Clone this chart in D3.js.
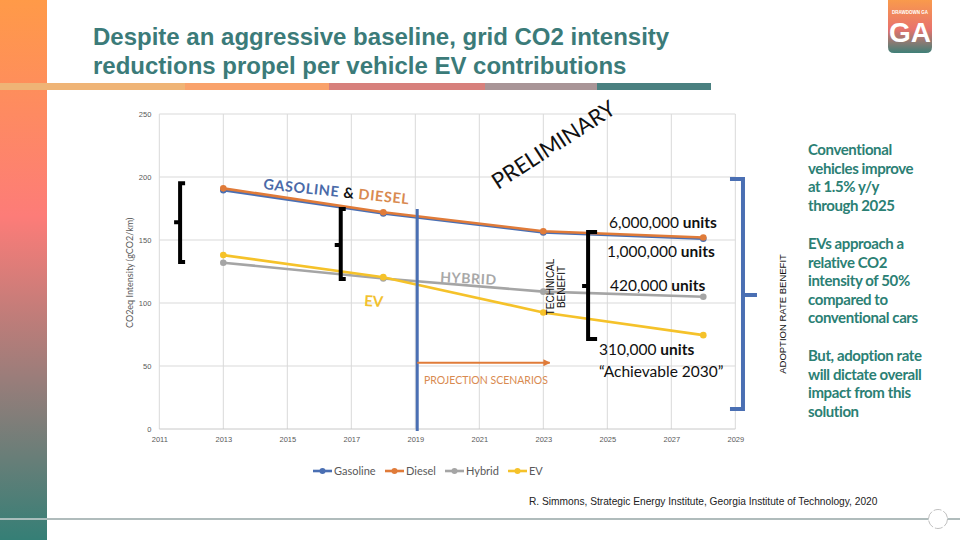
<!DOCTYPE html>
<html>
<head>
<meta charset="utf-8">
<script src="https://cdn.jsdelivr.net/npm/d3@7"></script>
<style>
  body { margin: 0; background: #fff; }
  svg { display: block; }
</style>
</head>
<body>
<svg id="chart" width="960" height="540"></svg>
<script>
// values
var years = [2013, 2018, 2023, 2028];
var gasoline = [189.5, 171, 156, 151];
var diesel = [191, 172, 157, 152];
var hybrid = [132, 119.5, 109, 105];
var ev = [138, 120.5, 92.5, 74.5];
var seriesNames = ["Gasoline", "Diesel", "Hybrid", "EV"];
var seriesColors = ["#4a6fb3", "#e07b39", "#a5a5a5", "#f5c22a"];
var xTicks = [2011, 2013, 2015, 2017, 2019, 2021, 2023, 2025, 2027, 2029];
var yTicks = [0, 50, 100, 150, 200, 250];
var unitLabels = [["6,000,000", " units"], ["1,000,000", " units"], ["420,000", " units"], ["310,000", " units"]];
var notes = [
  ["Conventional", "vehicles improve", "at 1.5% y/y", "through 2025"],
  ["EVs approach a", "relative CO2", "intensity of 50%", "compared to", "conventional cars"],
  ["But, adoption rate", "will dictate overall", "impact from this", "solution"]
];

var svg = d3.select("#chart");
var defs = svg.append("defs");

// left decorative strip
var strip = defs.append("linearGradient").attr("id", "strip").attr("x1", 0).attr("x2", 0).attr("y1", 0).attr("y2", 1);
strip.append("stop").attr("offset", "0%").attr("stop-color", "#ff9a48");
strip.append("stop").attr("offset", "40%").attr("stop-color", "#fd7c78");
strip.append("stop").attr("offset", "70%").attr("stop-color", "#9a7d7a");
strip.append("stop").attr("offset", "100%").attr("stop-color", "#357f76");
svg.append("rect").attr("x", 0).attr("y", 0).attr("width", 47).attr("height", 540).attr("fill", "url(#strip)");

// coloured band under the title
var band = [[0, 185, "#efb476"], [185, 329, "#f9a26b"], [329, 485, "#d7807c"], [485, 597, "#a99597"], [597, 711, "#4a8080"]];
svg.selectAll(".band").data(band).enter().append("rect")
  .attr("x", function(d) { return d[0]; })
  .attr("width", function(d) { return d[1] - d[0]; })
  .attr("y", 83).attr("height", 7)
  .attr("fill", function(d) { return d[2]; });

// title
var title = svg.append("text").attr("x", 93).attr("font-family", "Liberation Sans Narrow, Liberation Sans, sans-serif")
  .attr("font-size", 24).attr("font-weight", "bold").attr("fill", "#3b7b79");
title.append("tspan").attr("x", 93).attr("y", 45).text("Despite an aggressive baseline, grid CO2 intensity");
title.append("tspan").attr("x", 93).attr("y", 74).text("reductions propel per vehicle EV contributions");

// logo
var logo = defs.append("linearGradient").attr("id", "logo").attr("x1", 0).attr("x2", 0).attr("y1", 0).attr("y2", 1);
logo.append("stop").attr("offset", "0%").attr("stop-color", "#f99a4c");
logo.append("stop").attr("offset", "55%").attr("stop-color", "#e8736d");
logo.append("stop").attr("offset", "100%").attr("stop-color", "#3f8078");
svg.append("path").attr("d", "M888,0 H932 V47 Q932,53 926,53 H894 Q888,53 888,47 Z").attr("fill", "url(#logo)");
svg.append("text").attr("x", 910).attr("y", 14).attr("text-anchor", "middle").attr("font-family", "Liberation Sans Narrow, sans-serif")
  .attr("font-size", 4.5).attr("font-weight", "bold").attr("fill", "#fff").text("DRAWDOWN GA");
svg.append("text").attr("x", 910).attr("y", 42).attr("text-anchor", "middle").attr("font-family", "Liberation Sans Narrow, sans-serif")
  .attr("font-size", 28).attr("font-weight", "bold").attr("fill", "#fff").text("GA");

// bottom rule and circle
svg.append("line").attr("x1", 0).attr("x2", 960).attr("y1", 519).attr("y2", 519).attr("stroke", "#627b7b").attr("stroke-width", 1.2);
svg.append("line").attr("x1", 0).attr("x2", 47).attr("y1", 519).attr("y2", 519).attr("stroke", "#fff").attr("stroke-width", 1.2);
svg.append("circle").attr("cx", 938).attr("cy", 519).attr("r", 9.5).attr("fill", "#fff").attr("stroke", "#b0b0b0")
  .attr("stroke-width", 0.8).attr("stroke-dasharray", "8 2");

svg.append("text").attr("x", 529).attr("y", 505).attr("font-family", "Liberation Sans, sans-serif").attr("font-size", 10.2)
  .attr("fill", "#222").text("R. Simmons, Strategic Energy Institute, Georgia Institute of Technology, 2020");

// chart scales
var x = d3.scaleLinear().domain([2011, 2029]).range([159.3, 735.3]);
var y = d3.scaleLinear().domain([0, 250]).range([429, 114]);

// gridlines
svg.append("g").selectAll("line").data(xTicks).enter().append("line")
  .attr("x1", x).attr("x2", x).attr("y1", y(0)).attr("y2", y(250))
  .attr("stroke", "#d9d9d9").attr("stroke-width", 1);
svg.append("g").selectAll("line").data(yTicks).enter().append("line")
  .attr("x1", x(2011)).attr("x2", x(2029)).attr("y1", y).attr("y2", y)
  .attr("stroke", function(d) { return d === 0 ? "#c8c8c8" : "#d9d9d9"; }).attr("stroke-width", 1);

// axes (labels only)
var yAxis = svg.append("g").attr("transform", "translate(" + x(2011) + ",0)")
  .call(d3.axisLeft(y).tickValues(yTicks).tickSize(0).tickPadding(8));
var xAxis = svg.append("g").attr("transform", "translate(0," + y(0) + ")")
  .call(d3.axisBottom(x).tickValues(xTicks).tickSize(0).tickPadding(8).tickFormat(d3.format("d")));
[yAxis, xAxis].forEach(function(g) {
  g.select(".domain").remove();
  g.selectAll("text").attr("font-family", "Liberation Sans, sans-serif").attr("font-size", 7.5).attr("fill", "#595959");
});

svg.append("text").attr("transform", "translate(133," + y(124) + ") rotate(-90)").attr("text-anchor", "middle")
  .attr("font-family", "Lato, sans-serif").attr("font-size", 9).attr("fill", "#595959").text("CO2eq Intensity (gCO2/km)");

// series
var seriesData = [gasoline, diesel, hybrid, ev];
var line = d3.line().x(function(d, i) { return x(years[i]); }).y(function(d) { return y(d); });
seriesData.forEach(function(vals, k) {
  svg.append("path").datum(vals).attr("d", line).attr("fill", "none")
    .attr("stroke", seriesColors[k]).attr("stroke-width", 2.6);
  svg.append("g").selectAll("circle").data(vals).enter().append("circle")
    .attr("cx", function(d, i) { return x(years[i]); }).attr("cy", y).attr("r", 3.3)
    .attr("fill", seriesColors[k]);
});

// legend
var legendX = [313, 385, 445, 508];
var legend = svg.append("g").selectAll("g").data(seriesNames).enter().append("g")
  .attr("transform", function(d, i) { return "translate(" + legendX[i] + ",471)"; });
legend.append("line").attr("x1", 0).attr("x2", 19).attr("stroke", function(d, i) { return seriesColors[i]; }).attr("stroke-width", 2.6);
legend.append("circle").attr("cx", 9.5).attr("r", 3).attr("fill", function(d, i) { return seriesColors[i]; });
legend.append("text").attr("x", 21).attr("y", 4).attr("font-family", "Lato, sans-serif").attr("font-size", 11)
  .attr("fill", "#595959").text(function(d) { return d; });

// in-chart annotations
var font = "Lato, sans-serif";
svg.append("text").attr("transform", "translate(498,190) rotate(-33)").attr("font-family", font).attr("font-size", 22)
  .attr("fill", "#111").text("PRELIMINARY");

var gd = svg.append("text").attr("transform", "translate(263,189) rotate(6)").attr("font-family", font)
  .attr("font-size", 14.5).attr("font-weight", "bold").attr("letter-spacing", 0.6);
gd.append("tspan").attr("fill", "#4a6aa8").text("GASOLINE ");
gd.append("tspan").attr("fill", "#111").text("& ");
gd.append("tspan").attr("fill", "#d98a50").text("DIESEL");

svg.append("text").attr("transform", "translate(440,282) rotate(3)").attr("font-family", font).attr("font-size", 14)
  .attr("font-weight", "bold").attr("letter-spacing", 0.6).attr("fill", "#a8a8a8").text("HYBRID");
svg.append("text").attr("transform", "translate(364,306) rotate(3)").attr("font-family", font).attr("font-size", 15)
  .attr("font-weight", "bold").attr("fill", "#f2c12e").text("EV");

// brackets
function bracket(xv, top, bottom, mid, side, color, serif, tick) {
  var bx = x(xv), s = side * serif;
  svg.append("path")
    .attr("d", "M" + (bx + s) + "," + y(top) + " H" + bx + " V" + y(bottom) + " H" + (bx + s) +
      " M" + bx + "," + y(mid) + " H" + (bx - side * tick))
    .attr("fill", "none").attr("stroke", color).attr("stroke-width", 4);
}
bracket(2011.65, 195, 132.5, 164, 1, "#000", 5, 6);
bracket(2016.67, 174.6, 119, 146, 1, "#000", 5, 6);
bracket(2024.4, 156.3, 71.4, 113.5, 1, "#000", 9, 6);
bracket(2029.24, 198.4, 15.9, 106.3, -1, "#4a6fb3", 13, 14);

// projection start line and arrow
svg.append("line").attr("x1", x(2019.06)).attr("x2", x(2019.06)).attr("y1", y(174.6)).attr("y2", y(-1.6))
  .attr("stroke", "#4a6fb3").attr("stroke-width", 3);
defs.append("marker").attr("id", "arrow").attr("viewBox", "0 0 10 10").attr("refX", 9).attr("refY", 5)
  .attr("markerWidth", 3.5).attr("markerHeight", 3.5).attr("orient", "auto")
  .append("path").attr("d", "M0,0 L10,5 L0,10 Z").attr("fill", "#e07b39");
svg.append("line").attr("x1", x(2019.06)).attr("x2", x(2023.2)).attr("y1", y(52.6)).attr("y2", y(52.6))
  .attr("stroke", "#e07b39").attr("stroke-width", 2).attr("marker-end", "url(#arrow)");
svg.append("text").attr("x", 424).attr("y", 384).attr("font-family", font).attr("font-size", 10.5)
  .attr("fill", "#d98a50").text("PROJECTION SCENARIOS");

var tb = svg.append("text").attr("transform", "translate(554,287) rotate(-90)").attr("text-anchor", "middle")
  .attr("font-family", "Liberation Sans Narrow, sans-serif").attr("font-size", 10).attr("fill", "#111");
tb.append("tspan").attr("x", 0).attr("y", 0).text("TECHNICAL");
tb.append("tspan").attr("x", 0).attr("y", 11).text("BENEFIT");

svg.append("text").attr("transform", "translate(786,314) rotate(-90)").attr("text-anchor", "middle")
  .attr("font-family", "Liberation Sans, sans-serif").attr("font-size", 9.5).attr("fill", "#111").text("ADOPTION RATE BENEFIT");

// unit labels
var unitPos = [[609, 228], [607, 257], [610, 291], [599, 355]];
unitLabels.forEach(function(u, i) {
  var t = svg.append("text").attr("x", unitPos[i][0]).attr("y", unitPos[i][1]).attr("font-family", font)
    .attr("font-size", 15.5).attr("fill", "#111");
  t.append("tspan").text(u[0]);
  t.append("tspan").attr("font-weight", "bold").text(u[1]);
});
svg.append("text").attr("x", 599).attr("y", 377).attr("font-family", font).attr("font-size", 15.5).attr("fill", "#111")
  .text("\u201cAchievable 2030\u201d");

// right-hand notes
var noteTop = [155, 249, 361];
notes.forEach(function(block, b) {
  var t = svg.append("text").attr("font-family", font).attr("font-size", 15).attr("font-weight", "bold")
    .attr("fill", "#2b8074").attr("letter-spacing", -0.4);
  block.forEach(function(s, i) {
    t.append("tspan").attr("x", 808).attr("y", noteTop[b] + i * 18.5).text(s);
  });
});
</script>
</body>
</html>
